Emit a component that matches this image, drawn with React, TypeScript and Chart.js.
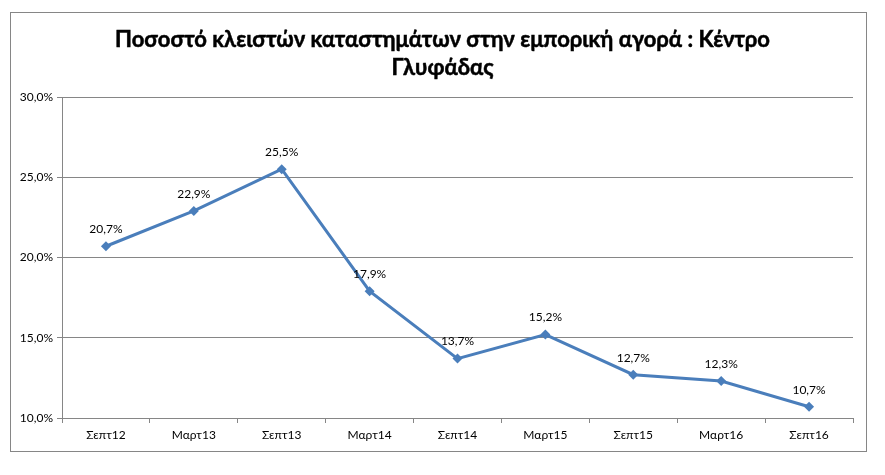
import { useEffect, useRef } from "react";
import { Chart, registerables, Plugin } from "chart.js";

Chart.register(...registerables);

const categories = ["Σεπτ12", "Μαρτ13", "Σεπτ13", "Μαρτ14", "Σεπτ14", "Μαρτ15", "Σεπτ15", "Μαρτ16", "Σεπτ16"];
const closedShare = [20.7, 22.9, 25.5, 17.9, 13.7, 15.2, 12.7, 12.3, 10.7];
const titleLines = ["Ποσοστό κλειστών καταστημάτων στην εμπορική αγορά : Κέντρο", "Γλυφάδας"];

const FONT = "Lato, 'Noto Sans', sans-serif";
const fmt = (v: number) => v.toFixed(1).replace(".", ",") + "%";

const titlePlugin: Plugin<"line"> = {
    id: "twoLineTitle",
    afterDraw(chart) {
        const ctx = chart.ctx;
        ctx.save();
        ctx.fillStyle = "#000";
        ctx.font = `bold 22px ${FONT}`;
        ctx.textAlign = "center";
        ctx.textBaseline = "middle";
        titleLines.forEach((line, i) => {
            const x = chart.width / 2 + 4;
            const y = 27 + i * 28;
            ctx.fillText(line, x, y);
            // a light stroke to give the heavier look of the original
            ctx.lineWidth = 0.5;
            ctx.strokeStyle = "#000";
            ctx.strokeText(line, x, y);
        });
        ctx.restore();
    },
};

const labelPlugin: Plugin<"line"> = {
    id: "pointLabels",
    afterDatasetsDraw(chart) {
        const ctx = chart.ctx;
        const meta = chart.getDatasetMeta(0);
        ctx.save();
        ctx.fillStyle = "#000";
        ctx.font = `12px ${FONT}`;
        ctx.textAlign = "center";
        ctx.textBaseline = "middle";
        meta.data.forEach((pt, i) => ctx.fillText(fmt(closedShare[i]), pt.x, pt.y - 17));
        ctx.restore();
    },
};

export default function App() {
    const canvasRef = useRef<HTMLCanvasElement | null>(null);

    useEffect(() => {
        if (!canvasRef.current) {
            return;
        }

        const chart = new Chart(canvasRef.current, {
            type: "line",
            data: {
                labels: categories,
                datasets: [
                    {
                        data: closedShare,
                        borderColor: "#4A7EBB",
                        backgroundColor: "#4A7EBB",
                        borderWidth: 3,
                        pointStyle: "rectRot",
                        pointRadius: 5,
                        pointBorderWidth: 0,
                        tension: 0,
                    },
                ],
            },
            options: {
                responsive: false,
                animation: false,
                layout: { padding: { top: 84, right: 13, left: 0, bottom: 0 } },
                plugins: {
                    legend: { display: false },
                    title: { display: false },
                    tooltip: { enabled: false },
                },
                scales: {
                    x: {
                        offset: true,
                        afterFit: (s) => {
                            s.height = 33;
                        },
                        grid: { offset: true, drawOnChartArea: false, tickLength: 5, color: "#868686" },
                        border: { color: "#868686" },
                        ticks: { color: "#000", font: { family: FONT, size: 12 }, padding: 5, maxRotation: 0 },
                    },
                    y: {
                        min: 10,
                        max: 30,
                        afterFit: (s) => {
                            s.width = 51;
                        },
                        grid: { color: "#868686", tickLength: 5 },
                        border: { color: "#868686" },
                        ticks: {
                            stepSize: 5,
                            color: "#000",
                            font: { family: FONT, size: 12 },
                            padding: 4,
                            callback: (v) => fmt(Number(v)),
                        },
                    },
                },
            },
            plugins: [titlePlugin, labelPlugin],
        });

        return () => chart.destroy();
    }, []);

    return (
        <div style={{ position: "fixed", inset: 0, background: "#fff" }}>
            <div
                style={{
                    position: "absolute",
                    left: 10,
                    top: 12,
                    width: 855,
                    height: 438,
                    border: "1px solid #868686",
                }}
            >
                <canvas ref={canvasRef} width={855} height={438} style={{ display: "block" }} />
            </div>
        </div>
    );
}
